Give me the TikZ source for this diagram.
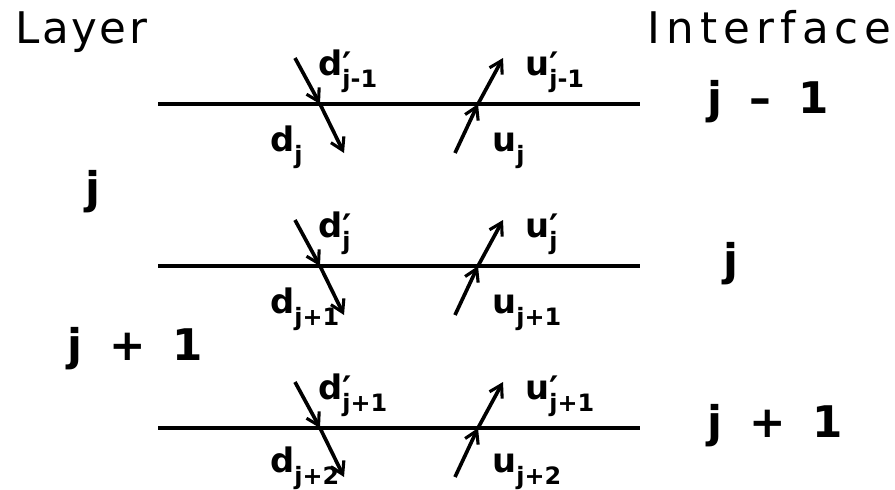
\documentclass[tikz,border=0pt]{standalone}
\usepackage{fontspec}
\setmainfont{DejaVu Sans}
\usetikzlibrary{arrows.meta,positioning}
% wave label: letter, optional prime, subscript
\newcommand{\wavelbl}[3]{#1\rlap{\raisebox{-0.08em}{\fontsize{25}{25}\selectfont#2}}\raisebox{-0.36em}{\fontsize{17}{17}\selectfont#3}}

\begin{document}
\begin{tikzpicture}[x=0.025cm, y=-0.025cm,
  iface/.style={line width=2.6pt},
  wave/.style={line width=2.6pt, -{Straight Barb[length=3mm,width=3.6mm,line width=2.2pt]}},
  head/.style={font=\fontsize{31}{32}\selectfont, inner sep=0pt},
  num/.style={font=\fontsize{31}{32}\selectfont\bfseries, inner sep=0pt},
  lbl/.style={font=\fontsize{24}{25}\selectfont\bfseries, inner sep=0pt}
]
  \useasboundingbox (0,0) rectangle (895,489);

  % column titles
  \node[head, anchor=base west] (layer) at (15,43) {\addfontfeature{LetterSpace=6}Layer};
  \node[head, anchor=base east] (iftitle) at (892,43) {\addfontfeature{LetterSpace=14}Interface};

  % interfaces
  \coordinate (l1) at (158,104);  \coordinate (r1) at (640,104);
  \coordinate (l2) at (158,266);  \coordinate (r2) at (640,266);
  \coordinate (l3) at (158,428);  \coordinate (r3) at (640,428);
  \draw[iface] (l1) -- (r1);
  \draw[iface] (l2) -- (r2);
  \draw[iface] (l3) -- (r3);

  % crossing points and ends of the waves
  \coordinate (dt1) at (295,58);  \coordinate (dc1) at (320,104); \coordinate (de1) at (344,153);
  \coordinate (ub1) at (455,153); \coordinate (uc1) at (478,104); \coordinate (ut1) at (503,58);
  \coordinate (dt2) at (295,220); \coordinate (dc2) at (320,266); \coordinate (de2) at (344,315);
  \coordinate (ub2) at (455,315); \coordinate (uc2) at (478,266); \coordinate (ut2) at (503,220);
  \coordinate (dt3) at (295,382); \coordinate (dc3) at (320,428); \coordinate (de3) at (344,477);
  \coordinate (ub3) at (455,477); \coordinate (uc3) at (478,428); \coordinate (ut3) at (503,382);

  \draw[wave] (dt1) -- (dc1);  \draw[wave] (dc1) -- (de1);
  \draw[wave] (ub1) -- (uc1);  \draw[wave] (uc1) -- (ut1);
  \draw[wave] (dt2) -- (dc2);  \draw[wave] (dc2) -- (de2);
  \draw[wave] (ub2) -- (uc2);  \draw[wave] (uc2) -- (ut2);
  \draw[wave] (dt3) -- (dc3);  \draw[wave] (dc3) -- (de3);
  \draw[wave] (ub3) -- (uc3);  \draw[wave] (uc3) -- (ut3);

  % wave labels
  \node[lbl, anchor=base west] (dp1) at (318,75)  {\wavelbl{d}{′}{j-1}};
  \node[lbl, anchor=base west] (d1)  at (270,151) {\wavelbl{d}{}{j}};
  \node[lbl, anchor=base west] (up1) at (525,75)  {\wavelbl{u}{′}{j-1}};
  \node[lbl, anchor=base west] (u1)  at (492,151) {\wavelbl{u}{}{j}};
  \node[lbl, anchor=base west] (dp2) at (318,237) {\wavelbl{d}{′}{j}};
  \node[lbl, anchor=base west] (d2)  at (270,313) {\wavelbl{d}{}{j+1}};
  \node[lbl, anchor=base west] (up2) at (525,237) {\wavelbl{u}{′}{j}};
  \node[lbl, anchor=base west] (u2)  at (492,313) {\wavelbl{u}{}{j+1}};
  \node[lbl, anchor=base west] (dp3) at (318,399) {\wavelbl{d}{′}{j+1}};
  \node[lbl, anchor=base west] (d3)  at (270,472) {\wavelbl{d}{}{j+2}};
  \node[lbl, anchor=base west] (up3) at (525,399) {\wavelbl{u}{′}{j+1}};
  \node[lbl, anchor=base west] (u3)  at (492,472) {\wavelbl{u}{}{j+2}};

  % interface numbers
  \node[num, anchor=base west] (if1) at (707,113) {j\hspace{0.62em}–\hspace{0.62em}1};
  \node[num, anchor=base west] (if2) at (723,275) {j};
  \node[num, anchor=base west] (if3) at (707,437) {j\hspace{0.62em}+\hspace{0.62em}1};

  % layer numbers
  \node[num, anchor=base west] (ly1) at (85,203) {j};
  \node[num, anchor=base west] (ly2) at (67,360) {j\hspace{0.62em}+\hspace{0.62em}1};
\end{tikzpicture}
\end{document}
